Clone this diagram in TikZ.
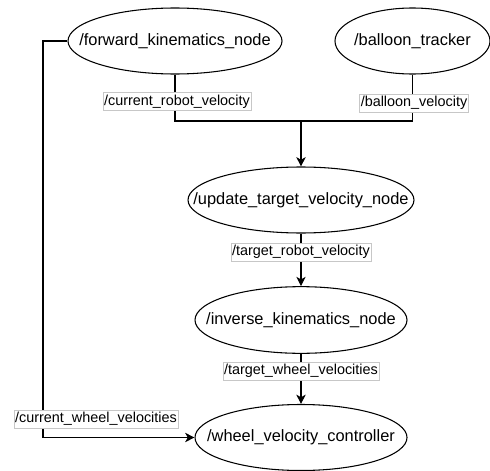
\documentclass[tikz,border=0pt]{standalone}
\usepackage{fontspec}
\setmainfont{Liberation Sans}
\usetikzlibrary{shapes.geometric,arrows.meta}
\begin{document}
\begin{tikzpicture}[x=0.75pt,y=-0.75pt,
  rosnode/.style={draw, ellipse, line width=0.8pt, inner sep=0pt,
    font=\fontsize{12.3}{14}\selectfont},
  topic/.style={fill=white, draw=black!22, line width=0.4pt, inner xsep=1pt,
    inner ysep=0pt, minimum height=13.5pt, font=\fontsize{10.8}{12}\selectfont},
  conn/.style={line width=0.8pt},
  arr/.style={conn, -{Stealth[length=7pt, width=7pt, inset=2pt]}}]
\useasboundingbox (0,0) rectangle (490,471);

\node[rosnode, minimum width=160.5pt, minimum height=49.5pt] (fk) at (175,41)
  {\makebox[0pt]{/forward\_kinematics\_node}};
\node[rosnode, minimum width=116.25pt, minimum height=49.5pt] (bt) at (412.5,41)
  {\makebox[0pt]{/balloon\_tracker}};
\node[rosnode, minimum width=169.5pt, minimum height=49.5pt] (utv) at (301,200)
  {\makebox[0pt]{/update\_target\_velocity\_node}};
\node[rosnode, minimum width=159pt, minimum height=50pt] (itv) at (301,320)
  {\makebox[0pt]{/inverse\_kinematics\_node}};
\node[rosnode, minimum width=159pt, minimum height=49.5pt] (wvc) at (301,437.5)
  {\makebox[0pt]{/wheel\_velocity\_controller}};

\coordinate (j) at (301,121);
\coordinate (lt) at (43,41);

\draw[conn] (fk.south) |- (j);
\draw[conn] (bt.south) |- (j);
\draw[arr] (j) -- (utv.north);
\draw[arr] (utv.south) -- (itv.north);
\draw[arr] (itv.south) -- (wvc.north);
\draw[arr] (fk.west) -- (lt) |- (wvc.west);

\node[topic] (l1) at (177,101.5) {/current\_robot\_velocity};
\node[topic] (l2) at (414,103) {/balloon\_velocity};
\node[topic] (l3) at (301,252) {/target\_robot\_velocity};
\node[topic] (l4) at (301,371) {/target\_wheel\_velocities};
\node[topic] (l5) at (96,419) {/current\_wheel\_velocities};
\end{tikzpicture}
\end{document}
